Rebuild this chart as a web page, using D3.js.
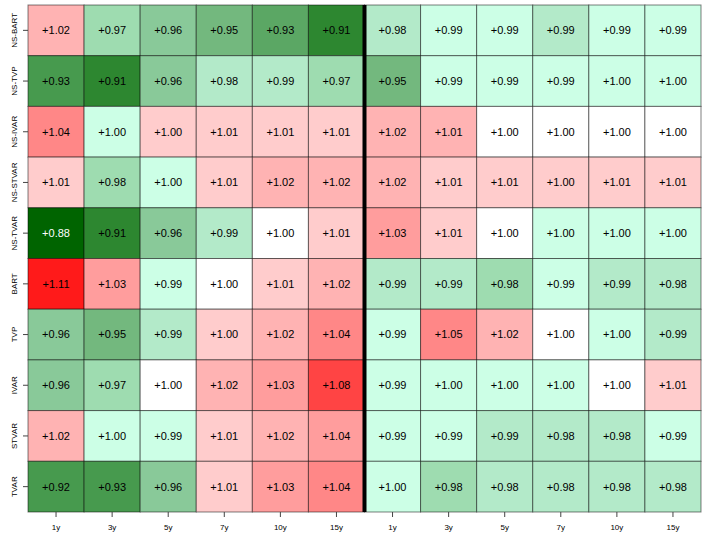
<!DOCTYPE html>
<html>
<head>
<meta charset="utf-8">
<script src="https://cdn.jsdelivr.net/npm/d3@7"></script>
<style>
    body { margin: 0; background: white; }
    text { font-family: "Liberation Sans", Arial, sans-serif; }
</style>
</head>
<body>
<div class="heatmap"></div>
<script>
const models = ["NS-BART", "NS-TVP", "NS-IVAR", "NS-STVAR", "NS-TVAR", "BART", "TVP", "IVAR", "STVAR", "TVAR"]
const horizons = ["1y", "3y", "5y", "7y", "10y", "15y", "1y", "3y", "5y", "7y", "10y", "15y"]

// relative errors per model, 12 horizons (two blocks of six)
const nsBart = [1.02, 0.972, 0.962, 0.952, 0.932, 0.912, 0.982, 0.992, 0.992, 0.988, 0.992, 0.992]
const nsTvp = [0.928, 0.912, 0.962, 0.982, 0.988, 0.972, 0.952, 0.992, 0.992, 0.992, 0.997, 0.997]
const nsIvar = [1.044, 0.997, 1.003, 1.008, 1.008, 1.008, 1.02, 1.012, 1.0, 1.0, 1.0, 1.0]
const nsStvar = [1.008, 0.978, 0.997, 1.008, 1.02, 1.02, 1.02, 1.008, 1.008, 1.003, 1.008, 1.008]
const nsTvar = [0.88, 0.912, 0.962, 0.988, 1.0, 1.008, 1.03, 1.008, 1.0, 0.997, 0.997, 0.997]
const bart = [1.11, 1.03, 0.992, 1.0, 1.008, 1.02, 0.988, 0.988, 0.978, 0.992, 0.988, 0.982]
const tvp = [0.962, 0.952, 0.988, 1.003, 1.02, 1.044, 0.992, 1.05, 1.02, 1.0, 0.997, 0.988]
const ivar = [0.962, 0.972, 1.0, 1.02, 1.03, 1.08, 0.992, 0.997, 0.997, 0.997, 1.0, 1.008]
const stvar = [1.02, 0.997, 0.992, 1.008, 1.02, 1.036, 0.992, 0.992, 0.988, 0.982, 0.982, 0.992]
const tvar = [0.922, 0.928, 0.962, 1.008, 1.03, 1.044, 0.997, 0.978, 0.982, 0.982, 0.982, 0.982]

const rows = [nsBart, nsTvp, nsIvar, nsStvar, nsTvar, bart, tvp, ivar, stvar, tvar]

const breaks = [0.89, 0.91, 0.92, 0.93, 0.94, 0.95, 0.96, 0.97, 0.98, 0.99, 0.9995, 1.0005, 1.01, 1.025, 1.04, 1.06, 1.09]
const palette = ["#006400", "#1a7a1f", "#2d8730", "#479a4e", "#5ba764", "#66af70", "#73b87e", "#89c999",
    "#9edcb0", "#b3eac9", "#ccffe6", "#ffffff", "#ffcccc", "#ffb3b3", "#ff9d9d", "#ff8787", "#ff4444", "#ff1a1a"]

const margin = { top: 5, right: 19, bottom: 28, left: 28 },
    width = 720 - margin.left - margin.right,
    height = 540 - margin.top - margin.bottom

const svg = d3.select(".heatmap")
    .append("svg")
    .attr("width", 720)
    .attr("height", 540)
    .append("g")
    .attr("transform", "translate(" + margin.left + "," + margin.top + ")")

const x = d3.scaleBand().domain(d3.range(horizons.length)).range([0, width])
const y = d3.scaleBand().domain(models).range([0, height])
const color = d3.scaleThreshold().domain(breaks).range(palette)

const cells = []
rows.forEach((vals, i) => vals.forEach((v, j) => cells.push({ model: models[i], col: j, value: v })))

svg.selectAll("rect.cell")
    .data(cells)
    .enter().append("rect")
    .attr("class", "cell")
    .attr("x", d => x(d.col))
    .attr("y", d => y(d.model))
    .attr("width", x.bandwidth())
    .attr("height", y.bandwidth())
    .attr("fill", d => color(d.value))
    .attr("stroke", "rgba(0,0,0,0.5)")
    .attr("stroke-width", 1)

svg.selectAll("text.val")
    .data(cells)
    .enter().append("text")
    .attr("class", "val")
    .attr("x", d => x(d.col) + x.bandwidth() / 2)
    .attr("y", d => y(d.model) + y.bandwidth() / 2)
    .attr("dy", "0.35em")
    .attr("text-anchor", "middle")
    .style("font-size", "11px")
    .attr("fill", d => d.value < 0.89 ? "white" : "black")
    .text(d => "+" + d.value.toFixed(2))

// separator between the two blocks of horizons
svg.append("line")
    .attr("x1", x(6))
    .attr("x2", x(6))
    .attr("y1", 0)
    .attr("y2", height)
    .attr("stroke", "black")
    .attr("stroke-width", 4)

const xAxis = svg.append("g")
    .attr("transform", "translate(0," + height + ")")
    .call(d3.axisBottom(x).tickSize(5).tickPadding(7).tickFormat(i => horizons[i]))
const yAxis = svg.append("g")
    .call(d3.axisLeft(y).tickSize(5).tickPadding(6))

xAxis.select(".domain").remove()
yAxis.select(".domain").remove()
xAxis.selectAll("line").attr("stroke", "#444")
yAxis.selectAll("line").attr("stroke", "#444")
xAxis.selectAll("text").style("font-size", "8px").attr("fill", "black")
yAxis.selectAll("text")
    .style("font-size", "8px")
    .attr("fill", "black")
    .attr("text-anchor", "middle")
    .attr("transform", "rotate(-90)")
    .attr("x", 0)
    .attr("dy", 0)
    .attr("y", -11)
</script>
</body>
</html>
